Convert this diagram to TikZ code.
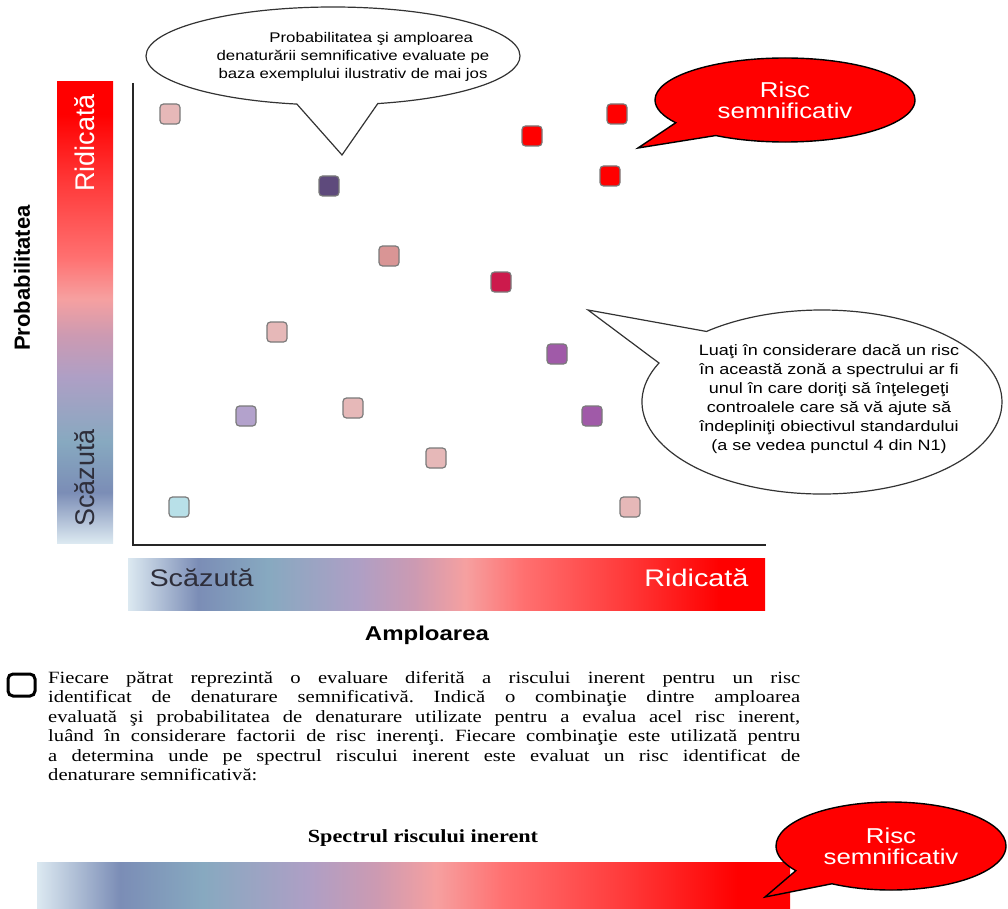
\documentclass[tikz,border=0pt]{standalone}
\usepackage{fontspec}
\setmainfont{Liberation Serif}[FakeStretch=1.2]
\newfontfamily\plainsans{Liberation Sans}
\newfontfamily\widesans{Liberation Sans}[FakeStretch=1.2]
\usetikzlibrary{shapes.callouts}
\frenchspacing

\definecolor{sp0}{HTML}{DCE9F1}
\definecolor{sp1}{HTML}{7B8DB6}
\definecolor{sp2}{HTML}{87A9C0}
\definecolor{sp3}{HTML}{AE9FC5}
\definecolor{sp4}{HTML}{CC9AB2}
\definecolor{sp5}{HTML}{F6A0A0}
\definecolor{sp6}{HTML}{FF7070}
\definecolor{sp7}{HTML}{FF3A3A}
\definecolor{sp8}{HTML}{FF0000}
\definecolor{boxedge}{HTML}{7A7A7A}
\definecolor{sqpink}{HTML}{E6B8B8}
\definecolor{sqmauve}{HTML}{D99595}
\definecolor{sqdark}{HTML}{5E4A7C}
\definecolor{sqred}{HTML}{FF0000}
\definecolor{sqcrimson}{HTML}{CC1A4C}
\definecolor{sqpurple}{HTML}{A05AA8}
\definecolor{sqlav}{HTML}{B3A2CC}
\definecolor{sqblue}{HTML}{B8E0E8}
\definecolor{lowtext}{HTML}{2E2E3A}

% spectrum, low -> high (25bp .. 75bp is the filled area)
\pgfdeclarehorizontalshading{spectrumH}{100bp}{color(0bp)=(sp0); color(25bp)=(sp0);
  color(30.5bp)=(sp1); color(36bp)=(sp2); color(43bp)=(sp3); color(47.5bp)=(sp4);
  color(51.5bp)=(sp5); color(56bp)=(sp6); color(64bp)=(sp7); color(71.5bp)=(sp8);
  color(75bp)=(sp8); color(100bp)=(sp8)}
\pgfdeclareverticalshading{spectrumV}{100bp}{color(0bp)=(sp0); color(25bp)=(sp0);
  color(30.5bp)=(sp1); color(36bp)=(sp2); color(43bp)=(sp3); color(47.5bp)=(sp4);
  color(51.5bp)=(sp5); color(56bp)=(sp6); color(64bp)=(sp7); color(71.5bp)=(sp8);
  color(75bp)=(sp8); color(100bp)=(sp8)}

\newcommand\bubblefont{\widesans\fontsize{21.5}{21}\selectfont}
\newcommand\notefont{\widesans\fontsize{14}{18}\selectfont}
\newcommand\bignotefont{\widesans\fontsize{15}{19}\selectfont}
\newcommand\barfont{\widesans\fontsize{24}{26}\selectfont}
\newcommand\sidefont{\plainsans\fontsize{27}{29}\selectfont}

\begin{document}
\begin{tikzpicture}[x=1pt,y=-1pt,
  risk box/.style={rectangle,rounded corners=3.5pt,draw=boxedge,line width=1.2pt,
    minimum size=20pt,inner sep=0pt},
  white bubble/.style={ellipse callout,draw=black!80,line width=1.2pt,fill=white,
    callout pointer arc=25,inner sep=0pt},
  red bubble/.style={ellipse callout,draw=black,line width=1.4pt,fill=red,
    callout pointer arc=25,inner sep=0pt,text=white,align=center,font=\bubblefont},
  bubble text/.style={align=center,inner sep=0pt}]

  \useasboundingbox (0,0) rectangle (1008,909);

  % axes and the two spectra
  \shade[shading=spectrumV] (57,82) rectangle (113,543);
  \shade[shading=spectrumH] (128,558) rectangle (765,610);
  \draw[line width=1.4pt,black!85] (133,83) -- (133,545) -- (766,545);

  \node[rotate=90,text=white,font=\sidefont] (yhigh) at (85,143) {Ridicată};
  \node[rotate=90,text=lowtext,font=\sidefont] (ylow) at (85,478) {Scăzută};
  \node[rotate=90,font=\plainsans\bfseries\fontsize{22}{24}\selectfont] (ytitle) at (22,278) {Probabilitatea};
  \node[anchor=west,text=lowtext,font=\barfont] (xlow) at (146,578) {Scăzută};
  \node[anchor=east,text=white,font=\barfont] (xhigh) at (752,578) {Ridicată};
  \node[font=\widesans\bfseries\fontsize{20}{22}\selectfont] (xtitle) at (427,635) {Amploarea};

  % assessed risks
  \node[risk box,fill=sqpink] (1) at (170,114) {};
  \node[risk box,fill=sqdark] (2) at (329,186) {};
  \node[risk box,fill=sqred] (3) at (532,136) {};
  \node[risk box,fill=sqred] (4) at (617,114) {};
  \node[risk box,fill=sqred] (5) at (610,176) {};
  \node[risk box,fill=sqmauve] (6) at (389,256) {};
  \node[risk box,fill=sqcrimson] (7) at (501,282) {};
  \node[risk box,fill=sqpink] (8) at (277,332) {};
  \node[risk box,fill=sqpurple] (9) at (557,354) {};
  \node[risk box,fill=sqlav] (10) at (246,416) {};
  \node[risk box,fill=sqpink] (11) at (353,408) {};
  \node[risk box,fill=sqpurple] (12) at (592,416) {};
  \node[risk box,fill=sqpink] (13) at (436,458) {};
  \node[risk box,fill=sqblue] (14) at (179,507) {};
  \node[risk box,fill=sqpink] (15) at (630,507) {};

  % callouts
  \node[white bubble,minimum width=374pt,minimum height=98pt,
    callout absolute pointer={(342,155)}] (top bubble) at (333,56) {};
  \node[bubble text,font=\notefont] (top note) at (353,57)
    {\hspace*{2.6em}Probabilitatea şi amploarea\\denaturării semnificative evaluate pe\\baza exemplului ilustrativ de mai jos};
  \node[white bubble,minimum width=360pt,minimum height=184pt,
    callout absolute pointer={(588,310)}] (side bubble) at (822,402) {};
  \node[bubble text,font=\bignotefont] (side note) at (829,399)
    {Luaţi în considerare dacă un risc\\în această zonă a spectrului ar fi\\unul în care doriţi să înţelegeţi\\controalele care să vă ajute să\\îndepliniţi obiectivul standardului\\(a se vedea punctul 4 din N1)};
  \node[red bubble,minimum width=260pt,minimum height=84pt,
    callout absolute pointer={(638,148)}] (risk top) at (785,100) {Risc\\semnificativ};

  % legend and bottom spectrum
  \draw[line width=3pt,rounded corners=5pt] (8,674) rectangle (35,696);
  \node[anchor=north west,text width=752pt,align=justify,inner sep=0pt,
    font=\fontsize{17.2}{19.5}\selectfont] (legend) at (48,671)
    {Fiecare pătrat reprezintă o evaluare diferită a riscului inerent pentru un risc\linebreak
     identificat de denaturare semnificativă. Indică o combinaţie dintre amploarea\linebreak
     evaluată şi probabilitatea de denaturare utilizate pentru a evalua acel risc inerent,\linebreak
     luând în considerare factorii de risc inerenţi. Fiecare combinaţie este utilizată pentru\linebreak
     a determina unde pe spectrul riscului inerent este evaluat un risc identificat de\linebreak
     denaturare semnificativă:};
  \node[font=\bfseries\fontsize{18.5}{20}\selectfont] (spectrum title) at (423,838) {Spectrul riscului inerent};
  \shade[shading=spectrumH] (37,862) rectangle (790,909);
  \node[red bubble,minimum width=230pt,minimum height=88pt,
    callout absolute pointer={(765,897)}] (risk bottom) at (891,846) {Risc\\semnificativ};
\end{tikzpicture}
\end{document}
